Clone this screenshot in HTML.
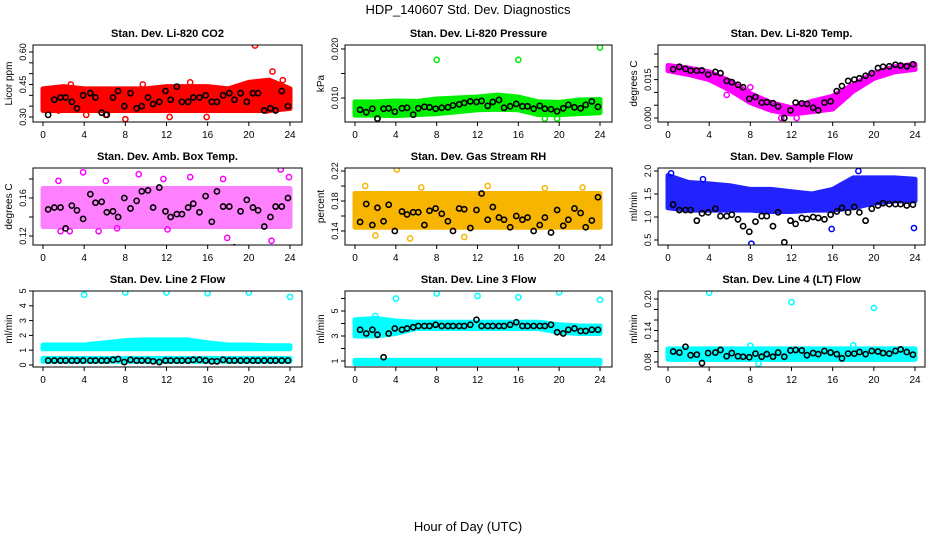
<!DOCTYPE html>
<html><head><meta charset="utf-8">
<style>
html,body{margin:0;padding:0;background:#fff;}
svg{display:block;font-family:"Liberation Sans",Arial,sans-serif;}
</style></head>
<body>
<svg id="chart" width="936" height="540" viewBox="0 0 936 540" xmlns="http://www.w3.org/2000/svg">
<text x="468" y="14" font-size="13" text-anchor="middle">HDP_140607  Std. Dev. Diagnostics</text>
<text x="468" y="531" font-size="13" text-anchor="middle">Hour of Day (UTC)</text>
</svg>
<script>
const bandHours=[0,2,4,6,8,10,12,14,16,18,20,22,24];
const blackX=[0.5,1.1,1.7,2.2,2.8,3.3,3.9,4.6,5.1,5.7,6.2,6.8,7.3,7.9,8.5,9.1,9.6,10.2,10.7,11.3,11.9,12.4,13.0,13.5,14.1,14.6,15.2,15.8,16.4,16.9,17.5,18.1,18.6,19.2,19.8,20.4,20.9,21.5,22.1,22.6,23.2,23.8];
const xTicks=[0,4,8,12,16,20,24];

const co2Lo=[0.33,0.33,0.33,0.33,0.33,0.33,0.33,0.33,0.33,0.33,0.33,0.33,0.34];
const co2Hi=[0.43,0.44,0.43,0.43,0.43,0.43,0.44,0.44,0.44,0.43,0.46,0.47,0.43];
const co2OutX=[20.6,22.3,8,4.2,12.3,15.9,2.7,9.7,14.3,21.8,23.3,6.1,1.5];
const co2OutY=[0.63,0.51,0.29,0.31,0.30,0.30,0.45,0.45,0.46,0.33,0.47,0.31,0.33];
const co2Black=[0.31,0.38,0.39,0.39,0.37,0.34,0.40,0.41,0.39,0.32,0.31,0.39,0.42,0.35,0.41,0.34,0.35,0.39,0.36,0.37,0.42,0.38,0.44,0.37,0.37,0.39,0.39,0.40,0.37,0.37,0.40,0.41,0.38,0.41,0.37,0.41,0.41,0.33,0.34,0.33,0.42,0.35];

const presLo=[0.0065,0.0065,0.0064,0.0066,0.0068,0.0072,0.0076,0.0077,0.0076,0.0066,0.0066,0.0068,0.0070];
const presHi=[0.0092,0.0092,0.0094,0.0093,0.0098,0.0100,0.0102,0.0106,0.0102,0.0092,0.0091,0.0096,0.0097];
const presOutX=[8,16,24,2.2,18.6,19.8];
const presOutY=[0.0178,0.0178,0.0203,0.0058,0.0058,0.0058];
const presBlack=[0.0076,0.0071,0.0078,0.0058,0.0078,0.0079,0.0072,0.0079,0.0080,0.0066,0.0079,0.0082,0.0081,0.0078,0.0080,0.0081,0.0085,0.0087,0.0090,0.0093,0.0092,0.0094,0.0084,0.0092,0.0096,0.0080,0.0083,0.0088,0.0083,0.0083,0.0078,0.0084,0.0078,0.0077,0.0073,0.0079,0.0086,0.0081,0.0079,0.0086,0.0093,0.0082];

const tempLo=[0.0185,0.0170,0.0150,0.0110,0.0060,0.0030,0.0015,0.0025,0.0035,0.0105,0.0155,0.0180,0.0190];
const tempHi=[0.0205,0.0195,0.0180,0.0145,0.0095,0.0060,0.0040,0.0065,0.0085,0.0130,0.0175,0.0200,0.0210];
const tempOutX=[11,12.5,8,5.7];
const tempOutY=[0.0000,0.0000,0.012,0.009];
const tempBlack=[0.0190,0.0200,0.0192,0.0185,0.0185,0.0186,0.0170,0.0180,0.0175,0.0145,0.0140,0.0130,0.0120,0.0075,0.0082,0.0060,0.0062,0.0058,0.0045,0.0000,0.0030,0.0060,0.0057,0.0055,0.0040,0.0030,0.0060,0.0065,0.0105,0.0125,0.0145,0.0150,0.0155,0.0165,0.0175,0.0195,0.0200,0.0202,0.0208,0.0205,0.0202,0.0210];

const ambLo=[0.13,0.13,0.13,0.13,0.13,0.13,0.13,0.13,0.13,0.13,0.13,0.13,0.13];
const ambHi=[0.17,0.17,0.17,0.17,0.17,0.17,0.17,0.17,0.17,0.17,0.17,0.17,0.17];
const ambOutX=[3.9,23.1,11.7,17.5,22.2,1.7,2.6,5.4,7.2,12.1,9.3,14.3,23.9,1.5,6.1,17.9];
const ambOutY=[0.187,0.19,0.18,0.18,0.115,0.125,0.125,0.125,0.128,0.127,0.185,0.182,0.182,0.178,0.178,0.118];
const ambBlack=[0.148,0.150,0.150,0.128,0.152,0.147,0.138,0.164,0.155,0.156,0.145,0.146,0.140,0.160,0.149,0.157,0.167,0.168,0.150,0.171,0.146,0.140,0.143,0.143,0.150,0.154,0.145,0.162,0.135,0.167,0.151,0.151,0.108,0.146,0.158,0.150,0.147,0.130,0.140,0.151,0.151,0.160];

const rhLo=[0.145,0.145,0.145,0.145,0.145,0.145,0.145,0.145,0.145,0.145,0.145,0.145,0.145];
const rhHi=[0.19,0.19,0.19,0.19,0.19,0.19,0.19,0.19,0.19,0.19,0.19,0.19,0.19];
const rhOutX=[4.1,5.4,2.0,10.7,1.0,6.5,13,18.6,22.3];
const rhOutY=[0.222,0.130,0.134,0.132,0.200,0.198,0.200,0.197,0.198];
const rhBlack=[0.152,0.176,0.148,0.171,0.153,0.175,0.140,0.166,0.162,0.165,0.165,0.148,0.167,0.170,0.163,0.153,0.140,0.170,0.169,0.144,0.168,0.190,0.155,0.172,0.158,0.155,0.145,0.160,0.155,0.158,0.140,0.148,0.158,0.138,0.168,0.147,0.155,0.170,0.164,0.145,0.154,0.185];

const flowLo=[1.2,1.15,1.15,1.15,1.15,1.12,1.12,1.15,1.15,1.2,1.3,1.35,1.35];
const flowHi=[1.9,1.75,1.72,1.68,1.6,1.6,1.55,1.5,1.6,1.85,1.85,1.85,1.82];
const flowOutX=[8.1,15.9,23.9,0.3,18.5,3.4];
const flowOutY=[0.42,0.74,0.76,1.95,2.0,1.82];
const flowBlack=[1.27,1.15,1.15,1.15,0.92,1.08,1.10,1.18,1.02,1.02,1.05,0.95,0.80,0.68,0.90,1.02,1.02,0.80,1.10,0.45,0.92,0.85,0.98,0.96,1.00,0.98,0.95,1.05,1.12,1.20,1.10,1.22,1.10,0.92,1.18,1.25,1.30,1.28,1.28,1.28,1.25,1.27];

const l2Lo=[1.1,1.1,1.1,1.1,1.1,1.1,1.1,1.1,1.1,1.1,1.1,1.1,1.1];
const l2Hi=[1.35,1.35,1.35,1.5,1.65,1.7,1.7,1.7,1.5,1.35,1.35,1.3,1.3];
const l2Lo2=[0.25,0.25,0.25,0.25,0.25,0.25,0.25,0.25,0.25,0.25,0.25,0.25,0.25];
const l2Hi2=[0.45,0.45,0.45,0.45,0.45,0.45,0.45,0.45,0.45,0.45,0.45,0.45,0.45];
const l2OutX=[4,8,12,16,20,24];
const l2OutY=[4.75,4.9,4.9,4.85,4.9,4.6];
const l2Black=[0.3,0.3,0.3,0.3,0.3,0.3,0.3,0.3,0.3,0.3,0.3,0.35,0.4,0.2,0.35,0.3,0.3,0.3,0.25,0.2,0.3,0.3,0.3,0.3,0.3,0.35,0.35,0.3,0.25,0.25,0.35,0.3,0.3,0.3,0.3,0.3,0.3,0.3,0.3,0.3,0.3,0.3];

const l3Lo=[3.0,3.0,3.2,3.6,3.6,3.6,3.6,3.6,3.6,3.6,3.3,3.2,3.2];
const l3Hi=[4.3,4.4,4.2,4.1,4.1,4.1,4.1,4.1,4.1,4.1,3.9,3.8,3.8];
const l3Lo2=[0.8,0.8,0.8,0.8,0.8,0.8,0.8,0.8,0.8,0.8,0.8,0.8,0.8];
const l3Hi2=[1.05,1.05,1.05,1.05,1.05,1.05,1.05,1.05,1.05,1.05,1.05,1.05,1.05];
const l3OutX=[4,8,12,16,20,24,2];
const l3OutY=[6.0,6.4,6.2,6.1,6.5,5.9,4.6];
const l3Black=[3.5,3.2,3.5,3.1,1.3,3.2,3.6,3.5,3.6,3.7,3.8,3.8,3.8,3.9,3.8,3.8,3.8,3.8,3.8,3.9,4.3,3.8,3.8,3.8,3.8,3.8,3.9,4.1,3.8,3.8,3.8,3.8,3.8,3.9,3.3,3.2,3.5,3.6,3.4,3.4,3.5,3.5];

const l4Lo=[0.085,0.085,0.085,0.085,0.085,0.085,0.085,0.085,0.085,0.085,0.085,0.085,0.085];
const l4Hi=[0.105,0.105,0.105,0.105,0.105,0.105,0.105,0.105,0.105,0.105,0.105,0.105,0.105];
const l4OutX=[4,12,20,8.8,18,8];
const l4OutY=[0.212,0.194,0.183,0.077,0.112,0.111];
const l4Black=[0.100,0.098,0.109,0.093,0.094,0.078,0.097,0.098,0.103,0.091,0.097,0.091,0.090,0.089,0.096,0.090,0.095,0.090,0.098,0.090,0.102,0.103,0.102,0.093,0.097,0.095,0.101,0.098,0.095,0.087,0.096,0.096,0.099,0.095,0.101,0.100,0.097,0.096,0.101,0.104,0.099,0.094];

const cols=[{bl:33,br:302,x0:43,x24:290},{bl:345,br:612,x0:355,x24:600},{bl:658,br:925,x0:668,x24:915}];
const rows=[{top:45,bot:122},{top:168,bot:245},{top:291,bot:367}];

const panels=[
 {name:'co2',title:'Stan. Dev. Li-820 CO2',ylab:'Licor ppm',c:0,r:0,v1:0.30,p1:117,v2:0.60,p2:52,ticks:[0.30,0.35,0.40,0.45,0.50,0.55,0.60],labels:['0.30','0.45','0.60'],color:'#ff0000',pt:'#ff0000',lo:co2Lo,hi:co2Hi,ox:co2OutX,oy:co2OutY,black:co2Black},
 {name:'pressure',title:'Stan. Dev. Li-820 Pressure',ylab:'kPa',c:1,r:0,v1:0.010,p1:98,v2:0.020,p2:49,ticks:[0.010,0.015,0.020],labels:['0.010','0.020'],color:'#00ee00',pt:'#00ee00',lo:presLo,hi:presHi,ox:presOutX,oy:presOutY,black:presBlack},
 {name:'temp',title:'Stan. Dev. Li-820 Temp.',ylab:'degrees C',c:2,r:0,v1:0.000,p1:118,v2:0.025,p2:54,ticks:[0,0.005,0.010,0.015,0.020,0.025],labels:['0.000','0.015'],color:'#ff00ff',pt:'#ff00ff',lo:tempLo,hi:tempHi,ox:tempOutX,oy:tempOutY,black:tempBlack},
 {name:'amb-box-temp',title:'Stan. Dev. Amb. Box Temp.',ylab:'degrees C',c:0,r:1,v1:0.12,p1:236,v2:0.16,p2:198,ticks:[0.12,0.14,0.16,0.18],labels:['0.12','0.16'],color:'#ff80ff',pt:'#ff00ff',lo:ambLo,hi:ambHi,ox:ambOutX,oy:ambOutY,black:ambBlack},
 {name:'gas-rh',title:'Stan. Dev. Gas Stream RH',ylab:'percent',c:1,r:1,v1:0.14,p1:231,v2:0.22,p2:171,ticks:[0.14,0.16,0.18,0.20,0.22],labels:['0.14','0.18','0.22'],color:'#f7b500',pt:'#f7b500',lo:rhLo,hi:rhHi,ox:rhOutX,oy:rhOutY,black:rhBlack},
 {name:'sample-flow',title:'Stan. Dev. Sample Flow',ylab:'ml/min',c:2,r:1,v1:0.5,p1:240,v2:2.0,p2:171,ticks:[0.5,1.0,1.5,2.0],labels:['0.5','1.0','1.5','2.0'],color:'#2222ff',pt:'#0000ff',lo:flowLo,hi:flowHi,ox:flowOutX,oy:flowOutY,black:flowBlack},
 {name:'line2-flow',title:'Stan. Dev. Line 2 Flow',ylab:'ml/min',c:0,r:2,v1:0,p1:365,v2:5,p2:291,ticks:[0,1,2,3,4,5],labels:['0','1','2','3','4','5'],color:'#00ffff',pt:'#00ffff',lo:l2Lo,hi:l2Hi,lo2:l2Lo2,hi2:l2Hi2,ox:l2OutX,oy:l2OutY,black:l2Black},
 {name:'line3-flow',title:'Stan. Dev. Line 3 Flow',ylab:'ml/min',c:1,r:2,v1:1,p1:361,v2:5,p2:311,ticks:[1,2,3,4,5,6],labels:['1','3','5'],color:'#00ffff',pt:'#00ffff',lo:l3Lo,hi:l3Hi,lo2:l3Lo2,hi2:l3Hi2,ox:l3OutX,oy:l3OutY,black:l3Black},
 {name:'line4-flow',title:'Stan. Dev. Line 4 (LT) Flow',ylab:'ml/min',c:2,r:2,v1:0.08,p1:362,v2:0.20,p2:299,ticks:[0.08,0.10,0.12,0.14,0.16,0.18,0.20],labels:['0.08','0.14','0.20'],color:'#00ffff',pt:'#00ffff',lo:l4Lo,hi:l4Hi,ox:l4OutX,oy:l4OutY,black:l4Black}
];

const svg=document.getElementById('chart');
const NS='http://www.w3.org/2000/svg';
function mk(tag,attrs,parent){const e=document.createElementNS(NS,tag);for(const k in attrs)e.setAttribute(k,attrs[k]);(parent||svg).appendChild(e);return e;}

panels.forEach(p=>{
  const C=cols[p.c],R=rows[p.r];
  const sx=h=>C.x0+(C.x24-C.x0)*h/24;
  const sy=v=>p.p1+(p.p2-p.p1)*(v-p.v1)/(p.v2-p.v1);
  const g=mk('g',{});
  
  
  const clip=mk('clipPath',{id:'clip-'+p.name},g);
  mk('rect',{x:C.bl,y:R.top,width:C.br-C.bl,height:R.bot-R.top},clip);
  const plot=mk('g',{'clip-path':'url(#clip-'+p.name+')'},g);
  function band(lo,hi,nm){
    let pts=[];
    bandHours.forEach((h,i)=>pts.push(sx(h)+','+sy(hi[i])));
    for(let i=bandHours.length-1;i>=0;i--)pts.push(sx(bandHours[i])+','+sy(lo[i]));
    const b=mk('polygon',{points:pts.join(' '),fill:p.color,stroke:p.color,'stroke-width':5,'stroke-linejoin':'round'},plot);
    
    
  }
  band(p.lo,p.hi,p.name+'-series-band');
  if(p.lo2)band(p.lo2,p.hi2,p.name+'-series-band-lower');
  p.ox.forEach((h,i)=>{
    const c=mk('circle',{cx:sx(h),cy:sy(p.oy[i]),r:2.6,fill:'none',stroke:p.pt,'stroke-width':1.5},plot);
    
    
  });
  p.black.forEach((v,i)=>{
    const c=mk('circle',{cx:sx(blackX[i]),cy:sy(v),r:2.6,fill:'none',stroke:'#000','stroke-width':1.6},plot);
    
    
  });
  const box=mk('rect',{x:C.bl,y:R.top,width:C.br-C.bl,height:R.bot-R.top,fill:'none',stroke:'#000','stroke-width':1},g);
  
  
  const t=mk('text',{x:(C.bl+C.br)/2,y:R.top-8,'font-size':11,'font-weight':'bold','text-anchor':'middle'},g);
  t.textContent=p.title;
  
  
  const yl=mk('text',{x:0,y:0,'font-size':10,'text-anchor':'middle',transform:'translate('+(C.bl-21)+','+((R.top+R.bot)/2)+') rotate(-90)'},g);
  yl.textContent=p.ylab;
  
  
  xTicks.forEach(h=>{
    mk('line',{x1:sx(h),x2:sx(h),y1:R.bot,y2:R.bot+4,stroke:'#000'},g);
    const tl=mk('text',{x:sx(h),y:R.bot+16,'font-size':10,'text-anchor':'middle'},g);
    tl.textContent=h;
    
    
  });
  p.ticks.forEach(v=>{
    const y=sy(v);
    if(y<R.top-1||y>R.bot+1)return;
    mk('line',{x1:C.bl-4,x2:C.bl,y1:y,y2:y,stroke:'#000'},g);
  });
  p.labels.forEach(s=>{
    const v=parseFloat(s);
    const tl=mk('text',{x:0,y:0,'font-size':9,'text-anchor':'middle',transform:'translate('+(C.bl-7)+','+sy(v)+') rotate(-90)'},g);
    tl.textContent=s;
    
    
  });
});
</script>
</body></html>
